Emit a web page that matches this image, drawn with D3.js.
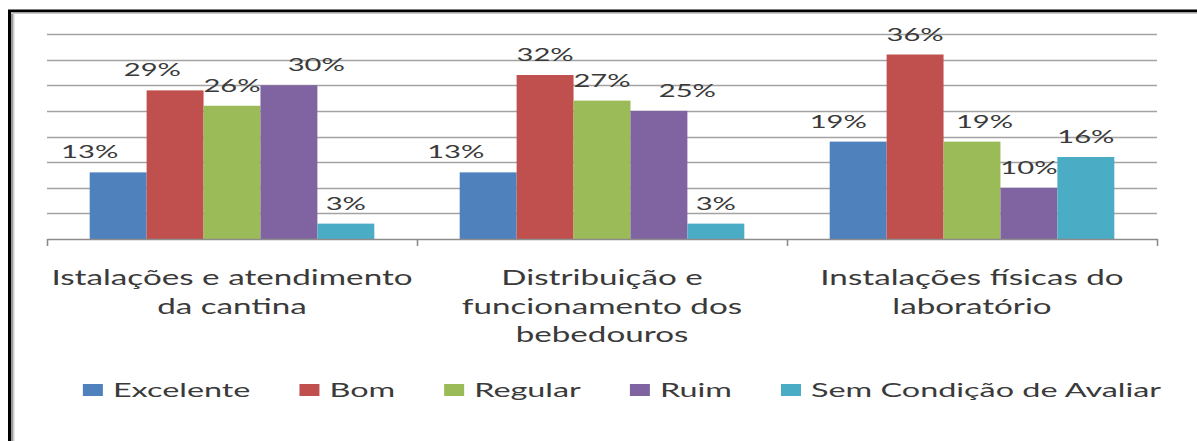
<!DOCTYPE html>
<html><head><meta charset="utf-8">
<script src="https://cdn.jsdelivr.net/npm/d3@7"></script>
<style>html,body{margin:0;padding:0;background:#fff;overflow:hidden}</style>
</head><body><svg id="c" width="1197" height="441"></svg>
<script>
// ---- data ----
const categories = ["Istalações e atendimento\nda cantina",
                    "Distribuição e\nfuncionamento dos\nbebedouros",
                    "Instalações físicas do\nlaboratório"];
const seriesNames = ["Excelente", "Bom", "Regular", "Ruim", "Sem Condição de Avaliar"];
const excelente   = [13, 13, 19];
const bom         = [29, 32, 36];
const regular     = [26, 27, 19];
const ruim        = [30, 25, 10];
const semCondicao = [3, 3, 16];
const yTicks = [0, 5, 10, 15, 20, 25, 30, 35, 40];
const colors = ["#4F81BD", "#C0504D", "#9BBB59", "#8064A2", "#4BACC6"];

const seriesValues = [excelente, bom, regular, ruim, semCondicao];

// ---- layout / style ----
const SX = 1.62;               // horizontal stretch of the original picture
const FONT = "Lato, 'Open Sans', sans-serif";
const plot = {left: 47, right: 1157, top: 34, bottom: 239};
// label side-shift (in bar widths) as the spreadsheet placed them to avoid overlaps
const labelShift = [[-0.5, -0.4, 0, 0.48, 0], [-0.57, 0, 0, 0.5, 0], [-0.35, 0, 0.22, 0, 0]];

const svg = d3.select("#c");

// frame
svg.append("path").attr("d", "M9.5,441V11H1197").attr("fill", "none")
   .attr("stroke", "#000").attr("stroke-width", 3);
svg.append("rect").attr("x", 11).attr("y", 12.5).attr("width", 2).attr("height", 430).attr("fill", "#9a9a9a");
svg.append("rect").attr("x", 13).attr("y", 13).attr("width", 1.5).attr("height", 430).attr("fill", "#d0d0d0");
svg.append("rect").attr("x", 11).attr("y", 12.5).attr("width", 1190).attr("height", 1.5).attr("fill", "#c8c8c8");

const y = d3.scaleLinear().domain([0, d3.max(yTicks)]).range([plot.bottom, plot.top]);
const x0 = d3.scaleBand().domain(d3.range(categories.length)).range([plot.left, plot.right]).padding(0);
const x1 = d3.scaleBand().domain(d3.range(seriesNames.length)).range([0, x0.bandwidth()])
             .paddingInner(0).paddingOuter(0.75);

// gridlines
svg.append("g").selectAll("line").data(yTicks.filter(t => t > 0)).join("line")
  .attr("x1", plot.left).attr("x2", plot.right)
  .attr("y1", d => Math.round(y(d)) + 0.5).attr("y2", d => Math.round(y(d)) + 0.5)
  .attr("stroke", "#a3a3a3").attr("stroke-width", 1.4);

// bars
const groups = svg.append("g").selectAll("g").data(categories).join("g")
  .attr("transform", (d, i) => `translate(${x0(i)},0)`);
groups.selectAll("rect").data((d, i) => seriesValues.map((s, j) => ({j, v: s[i]}))).join("rect")
  .attr("x", d => x1(d.j)).attr("width", x1.bandwidth())
  .attr("y", d => y(d.v)).attr("height", d => y(0) - y(d.v))
  .attr("fill", d => colors[d.j]);

// category axis (ticks at band boundaries)
const xb = d3.scaleLinear().domain([0, categories.length]).range([plot.left, plot.right]);
const axis = svg.append("g").attr("transform", `translate(0,${plot.bottom})`)
  .call(d3.axisBottom(xb).tickValues(d3.range(categories.length + 1)).tickFormat("").tickSize(7).tickSizeOuter(0));
axis.select(".domain").attr("stroke", "#8c8c8c").attr("stroke-width", 1.6);
axis.selectAll(".tick line").attr("stroke", "#8c8c8c").attr("stroke-width", 1.6);

function stext(parent, x, yy, str, size, anchor) {
  return parent.append("text")
    .attr("transform", `translate(${x},${yy}) scale(${SX},1)`)
    .attr("text-anchor", anchor || "middle")
    .attr("font-family", FONT).attr("font-size", size).attr("font-weight", 400).attr("fill", "#3a3a3a")
    .text(str);
}

// value labels
const lab = svg.append("g");
categories.forEach((c, i) => {
  seriesValues.forEach((s, j) => {
    const cx = x0(i) + x1(j) + x1.bandwidth() * (0.5 + labelShift[i][j]);
    stext(lab, cx, y(s[i]) - 14, s[i] + "%", 18);
  });
});

// category labels
const cl = svg.append("g");
categories.forEach((c, i) => {
  c.split("\n").forEach((line, k) => {
    stext(cl, x0(i) + x0.bandwidth() / 2, 285 + k * 28.5, line, 20.5);
  });
});

// legend
const lg = svg.append("g");
const items = seriesNames.map((n, j) => {
  const t = stext(lg, 0, 397, n, 20, "start");
  return {t, w: t.node().getComputedTextLength() * SX, j};
});
const sq = 20, gapSq = 10, gapItem = 49;
const total = d3.sum(items, d => sq + gapSq + d.w) + gapItem * (items.length - 1);
let cx = 622 - total / 2;
items.forEach(d => {
  lg.append("rect").attr("x", cx).attr("y", 384).attr("width", sq).attr("height", 12).attr("fill", colors[d.j]);
  d.t.attr("transform", `translate(${cx + sq + gapSq},397) scale(${SX},1)`);
  cx += sq + gapSq + d.w + gapItem;
});
</script></body></html>
